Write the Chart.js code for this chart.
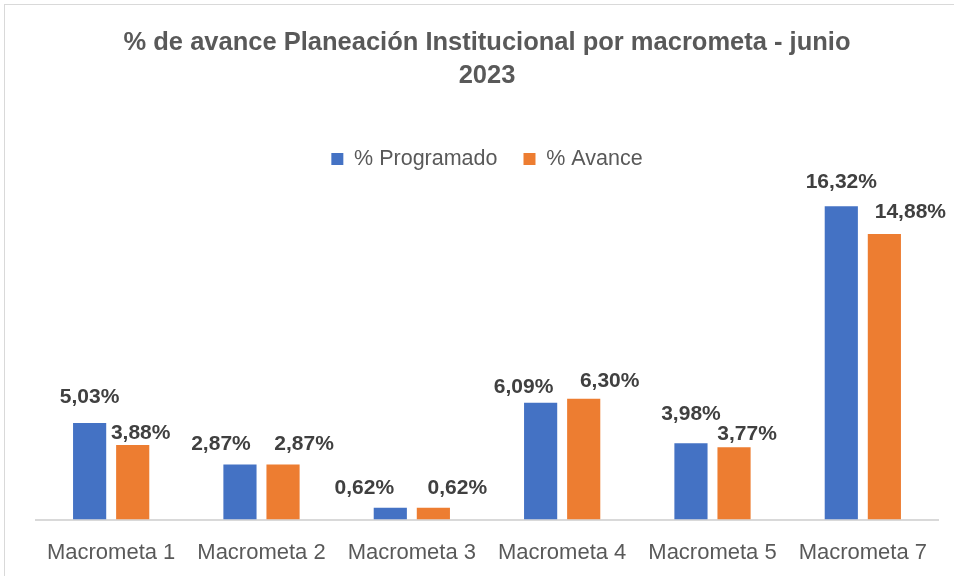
<!DOCTYPE html>
<html>
<head>
<meta charset="utf-8">
<script src="https://cdn.jsdelivr.net/npm/chart.js@4.4.0/dist/chart.umd.min.js"></script>
<style>
  body { margin: 0; background: #fff; overflow: hidden; }
  #frame { position: absolute; left: 4px; top: 4px; width: 960px; height: 580px; border: 1px solid #d9d9d9; }
  #wrap { position: absolute; left: 0; top: 0; width: 954px; height: 576px; }
</style>
</head>
<body>
<div id="frame"></div>
<div id="wrap"><canvas id="aqiChart"></canvas></div>
<script>
const categories = ['Macrometa 1', 'Macrometa 2', 'Macrometa 3', 'Macrometa 4', 'Macrometa 5', 'Macrometa 7'];
const programado = [5.03, 2.87, 0.62, 6.09, 3.98, 16.32];
const avance = [3.88, 2.87, 0.62, 6.30, 3.77, 14.88];

// label nudges (dx, dy from bar top centre), like Excel placed them
const labelNudge = [
  [[0, -26], [-19, -20], [-26, -19], [-17, -15], [0, -29], [0, -24]],
  [[8, -12], [21, -20], [24, -19], [26, -17], [13, -13], [26, -22]]
];

const FONT = "'Liberation Sans', Arial, sans-serif";

const barLabels = {
  id: 'barLabels',
  afterDatasetsDraw(chart) {
    const ctx = chart.ctx;
    ctx.save();
    ctx.font = 'bold 21px ' + FONT;
    ctx.fillStyle = '#404040';
    ctx.textAlign = 'center';
    ctx.textBaseline = 'middle';
    chart.data.datasets.forEach((ds, i) => {
      chart.getDatasetMeta(i).data.forEach((bar, j) => {
        const txt = ds.data[j].toFixed(2).replace('.', ',') + '%';
        const n = labelNudge[i][j];
        ctx.fillText(txt, bar.x + n[0], bar.y + n[1]);
      });
    });
    ctx.restore();
  }
};

const ctx = document.getElementById('aqiChart').getContext('2d');
const chart = new Chart(ctx, {
  type: 'bar',
  data: {
    labels: categories,
    datasets: [
      { label: '% Programado', data: programado, backgroundColor: '#4472C4' },
      { label: '% Avance', data: avance, backgroundColor: '#ED7D31' }
    ]
  },
  options: {
    responsive: true,
    maintainAspectRatio: false,
    animation: false,
    layout: { padding: { left: 36, right: 16, top: 4, bottom: -10 } },
    datasets: { bar: { categoryPercentage: 0.573, barPercentage: 0.77 } },
    scales: {
      x: {
        grid: { display: false, drawTicks: false },
        border: { display: true, color: '#d9d9d9', width: 2 },
        ticks: { color: '#595959', font: { family: FONT, size: 22 }, padding: 20 }
      },
      y: { display: false, min: 0, max: 17.7 }
    },
    plugins: {
      title: {
        display: true,
        text: ['% de avance Planeación Institucional por macrometa - junio', '2023'],
        color: '#595959',
        font: { family: FONT, size: 25.5, weight: 'bold', lineHeight: 1.3 },
        padding: { top: 22, bottom: 30 }
      },
      legend: {
        display: true,
        position: 'top',
        labels: {
          color: '#595959',
          font: { family: FONT, size: 21.5 },
          boxWidth: 12,
          boxHeight: 12,
          padding: 26
        }
      },
      tooltip: { enabled: false }
    }
  },
  plugins: [barLabels]
});
</script>
</body>
</html>
